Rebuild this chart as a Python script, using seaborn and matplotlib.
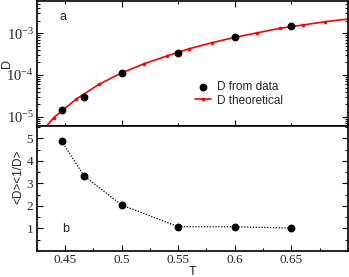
import matplotlib
matplotlib.use("Agg")
import matplotlib.pyplot as plt
import matplotlib.ticker as mticker
import seaborn as sns
import pandas as pd

# ---- data ----
T_data = [0.447, 0.467, 0.50, 0.55, 0.60, 0.65]
D_data = [1.45e-5, 3.0e-5, 1.1e-4, 3.45e-4, 8.1e-4, 1.5e-3]
ratio_data = [4.88, 3.32, 2.04, 1.07, 1.07, 1.01]

T_theory = [0.42, 0.44, 0.46, 0.48, 0.50, 0.52, 0.54, 0.56, 0.58, 0.60,
            0.62, 0.64, 0.66, 0.68, 0.70]
D_theory = [2.1e-6, 9.5e-6, 2.65e-5, 5.98e-5, 1.12e-4, 1.87e-4, 2.86e-4,
            4.28e-4, 5.96e-4, 8.0e-4, 1.03e-3, 1.32e-3, 1.58e-3, 1.90e-3,
            2.2e-3]

x_ticks_top = [0.5, 0.6]
x_ticks_bottom = [0.45, 0.5, 0.55, 0.6, 0.65]
x_tick_labels = ["0.45", "0.5", "0.55", "0.6", "0.65"]
y_ticks_bottom = [1, 2, 3, 4, 5]

sns.set_style("ticks")
plt.rcParams["font.family"] = ["Liberation Serif", "DejaVu Serif"]
plt.rcParams["mathtext.fontset"] = "custom"
plt.rcParams["mathtext.rm"] = "Liberation Serif"
plt.rcParams["mathtext.it"] = "Liberation Serif:italic"
plt.rcParams["axes.linewidth"] = 1.2
SANS = ["Liberation Sans", "DejaVu Sans"]

df_data = pd.DataFrame({"T": T_data, "D": D_data, "R": ratio_data})
df_th = pd.DataFrame({"T": T_theory, "D": D_theory})

fig = plt.figure(figsize=(3.49, 2.77), dpi=100)
L, R = 0.105, 0.997
ax1 = fig.add_axes([L, 0.5462, R - L, 0.9964 - 0.5462])
ax2 = fig.add_axes([L, 0.0946, R - L, 0.5462 - 0.0946])

# ---- upper panel ----
sns.lineplot(data=df_th, x="T", y="D", ax=ax1, color="red", lw=1.2,
             marker="o", markersize=2.6, markeredgewidth=0, zorder=2,
             label="D theoretical", sort=False)
sns.scatterplot(data=df_data, x="T", y="D", ax=ax1, color="black", s=32,
                edgecolor="black", linewidth=0, zorder=3, label="D from data")
ax1.set_yscale("log")
ax1.set_xlim(0.425, 0.70)
ax1.set_ylim(6.1e-6, 5.95e-3)
ax1.xaxis.set_major_locator(mticker.FixedLocator(x_ticks_top))
ax1.xaxis.set_minor_locator(mticker.MultipleLocator(0.05))
ax1.yaxis.set_major_locator(mticker.LogLocator(base=10, numticks=10))
ax1.yaxis.set_minor_locator(mticker.LogLocator(base=10, subs=range(2, 10), numticks=20))
ax1.yaxis.set_minor_formatter(mticker.NullFormatter())
ax1.tick_params(axis="x", which="both", labelbottom=False)
ax1.set_xlabel("")
ax1.set_ylabel("D", family=SANS, fontsize=9)
ax1.yaxis.set_label_coords(-0.076, 0.5)
ax1.text(0.086, 0.87, "a", transform=ax1.transAxes, family=SANS, fontsize=9,
         ha="center", va="center")
h, l = ax1.get_legend_handles_labels()
order = [l.index("D from data"), l.index("D theoretical")]
ax1.legend([h[i] for i in order], [l[i] for i in order], loc="upper left",
           bbox_to_anchor=(0.51, 0.355), frameon=False, borderpad=0,
           borderaxespad=0, handlelength=1.35, handletextpad=0.45,
           labelspacing=0.1, prop={"family": SANS, "size": 8.5})

# ---- lower panel ----
sns.lineplot(data=df_data, x="T", y="R", ax=ax2, color="black", lw=0.9,
             linestyle=(0, (1, 1.3)), zorder=2, sort=False)
sns.scatterplot(data=df_data, x="T", y="R", ax=ax2, color="black", s=32,
                edgecolor="black", linewidth=0, zorder=3)
ax2.set_xlim(0.425, 0.70)
ax2.set_ylim(0, 5.56)
ax2.xaxis.set_major_locator(mticker.FixedLocator(x_ticks_bottom))
ax2.xaxis.set_major_formatter(mticker.FixedFormatter(x_tick_labels))
ax2.xaxis.set_minor_locator(mticker.MultipleLocator(0.025))
ax2.yaxis.set_major_locator(mticker.FixedLocator(y_ticks_bottom))
ax2.yaxis.set_minor_locator(mticker.MultipleLocator(0.5))
ax2.set_xlabel("T", family=SANS, fontsize=9, labelpad=0)
ax2.set_ylabel("<D><1/D>", family=SANS, fontsize=8.5)
ax2.yaxis.set_label_coords(-0.041, 0.59)
ax2.text(0.093, 0.178, "b", transform=ax2.transAxes, family=SANS, fontsize=9,
         ha="center", va="center")

for ax in (ax1, ax2):
    ax.tick_params(which="both", direction="in", left=True, right=True,
                   width=0.8, labelsize=9.5, pad=2.5, color="black")
    ax.tick_params(which="major", length=4)
    ax.tick_params(which="minor", length=2.2)
    for s in ax.spines.values():
        s.set_visible(True)
        s.set_color("black")
ax1.tick_params(axis="y", which="major", labelsize=10.5, pad=2)
ax1.tick_params(which="both", top=True, bottom=True)
ax2.tick_params(which="both", top=False, bottom=True)

fig.savefig("out.png", dpi=100)
